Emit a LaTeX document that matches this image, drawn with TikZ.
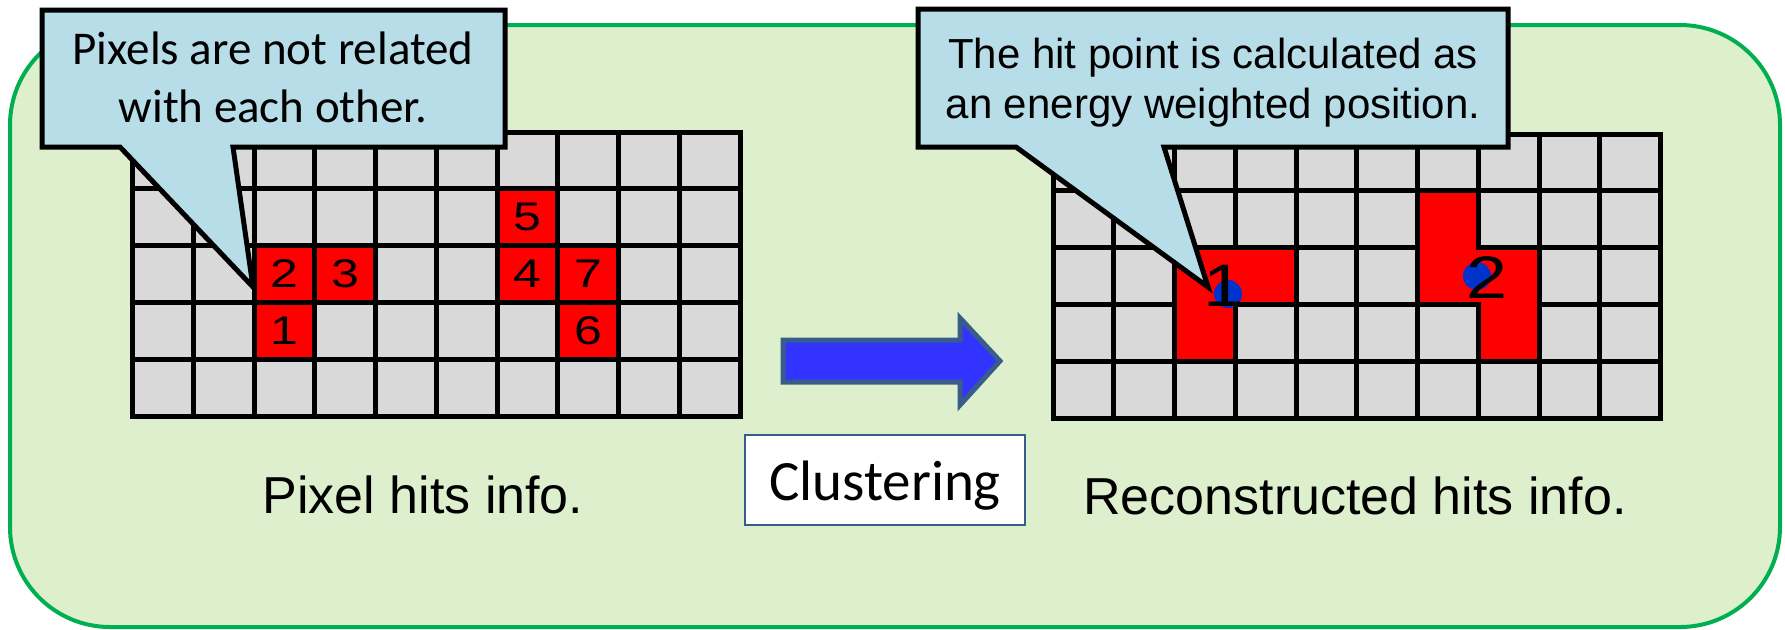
\documentclass[tikz,border=0pt]{standalone}
\usepackage{fontspec}
\setmainfont{Liberation Sans}
\newfontfamily\calibri{Carlito}
\definecolor{bggreen}{RGB}{222,239,206}
\definecolor{edgegreen}{RGB}{0,176,80}
\definecolor{calloutblue}{RGB}{183,221,232}
\definecolor{cellgray}{RGB}{217,217,217}
\definecolor{dotblue}{RGB}{0,51,204}
\definecolor{arrowblue}{RGB}{51,51,255}
\definecolor{steel}{RGB}{56,93,138}
\begin{document}
\begin{tikzpicture}[x=0.5pt,y=-0.5pt,
  gridline/.style={line width=2.5pt, draw=black, line cap=rect},
  clusteredge/.style={line width=2.5pt, draw=black, fill=red, line join=miter},
  callout/.style={fill=calloutblue, draw=black, line width=2.5pt, line join=miter},
  smalldigit/.style={inner sep=0pt, text=black, font=\fontsize{20}{24}\selectfont},
  bigdigit/.style={inner sep=0pt, text=black, font=\fontsize{30}{36}\selectfont},
  callonetext/.style={inner sep=0pt, anchor=base, font=\calibri\fontsize{23.5}{28}\selectfont},
  calltwotext/.style={inner sep=0pt, anchor=base, font=\fontsize{21}{25}\selectfont},
  caption/.style={inner sep=0pt, anchor=base, font=\fontsize{26}{31}\selectfont},
  hitdot/.style={fill=dotblue}]
\useasboundingbox (0,0) rectangle (1785,629);
\fill[white] (0,0) rectangle (1785,629);
% green panel
\draw[fill=bggreen, draw=edgegreen, line width=2pt, rounded corners=50pt] (10,25) rectangle (1780,627);
\def\CW{60.75}
\def\CH{56.8}
% left grid
\begin{scope}[shift={(132.5,132)}]
  \fill[cellgray] (0,0) rectangle (10*\CW,5*\CH);
  \foreach \c/\r in {2/2,3/2,6/1,6/2,7/2,2/3,7/3}
    \fill[red] (\c*\CW,\r*\CH) rectangle ++(\CW,\CH);
  \foreach \i in {0,...,10} \draw[gridline] (\i*\CW,0) -- (\i*\CW,5*\CH);
  \foreach \j in {0,...,5} \draw[gridline] (0,\j*\CH) -- (10*\CW,\j*\CH);
  \node[smalldigit] (p1) at (2.5*\CW,3.5*\CH) {\scalebox{1.25}[1]{1}};
  \node[smalldigit] (p2) at (2.5*\CW,2.5*\CH) {\scalebox{1.25}[1]{2}};
  \node[smalldigit] (p3) at (3.5*\CW,2.5*\CH) {\scalebox{1.25}[1]{3}};
  \node[smalldigit] (p4) at (6.5*\CW,2.5*\CH) {\scalebox{1.25}[1]{4}};
  \node[smalldigit] (p5) at (6.5*\CW,1.5*\CH) {\scalebox{1.25}[1]{5}};
  \node[smalldigit] (p6) at (7.5*\CW,3.5*\CH) {\scalebox{1.25}[1]{6}};
  \node[smalldigit] (p7) at (7.5*\CW,2.5*\CH) {\scalebox{1.25}[1]{7}};
\end{scope}
% right grid
\begin{scope}[shift={(1053,134)}]
  \fill[cellgray] (0,0) rectangle (10*\CW,5*\CH);
  \foreach \i in {0,...,10} \draw[gridline] (\i*\CW,0) -- (\i*\CW,5*\CH);
  \foreach \j in {0,...,5} \draw[gridline] (0,\j*\CH) -- (10*\CW,\j*\CH);
  \path[clusteredge] (2*\CW,2*\CH) -- (4*\CW,2*\CH) -- (4*\CW,3*\CH) -- (3*\CW,3*\CH)
     -- (3*\CW,4*\CH) -- (2*\CW,4*\CH) -- cycle;
  \path[clusteredge] (6*\CW,1*\CH) -- (7*\CW,1*\CH) -- (7*\CW,2*\CH) -- (8*\CW,2*\CH)
     -- (8*\CW,4*\CH) -- (7*\CW,4*\CH) -- (7*\CW,3*\CH) -- (6*\CW,3*\CH) -- cycle;
\end{scope}
\fill[hitdot] (1228,294) circle[radius=14];
\fill[hitdot] (1477,276) circle[radius=14];
\node[bigdigit] (c1) at (1224,286) {\scalebox{1.23}[1]{1}};
\node[bigdigit] (c2) at (1487,278) {\scalebox{1.23}[1]{2}};
% callouts
\draw[callout] (42,10) -- (505,10) -- (505,147) -- (233,147) -- (253,287) -- (120,147) -- (42,147) -- cycle;
\node[callonetext] (t1a) at (273,64) {Pixels are not related};
\node[callonetext] (t1b) at (273,122) {with each other.};
\draw[callout] (918,9) -- (1508,9) -- (1508,147) -- (1164,147) -- (1208,287) -- (1016,147) -- (918,147) -- cycle;
\node[calltwotext] (t2a) at (1213,68) {The hit point is calculated as};
\node[calltwotext] (t2b) at (1213,118) {an energy weighted position.};
% arrow
\draw[fill=arrowblue, draw=steel, line width=2.5pt, line join=miter]
  (783,340) -- (960,340) -- (960,318) -- (1000,361) -- (960,405) -- (960,382) -- (783,382) -- cycle;
% clustering box
\node[draw=steel, line width=1pt, fill=white, minimum width=140pt, minimum height=45pt, inner sep=0pt] (clbox) at (885,480) {};
\node[inner sep=0pt, anchor=base, font=\calibri\fontsize{28.5}{34}\selectfont] (cltext) at (885,500) {Clustering};
% captions
\node[caption] (cap1) at (423,513) {Pixel hits info.};
\node[caption] (cap2) at (1355,514) {Reconstructed hits info.};
\end{tikzpicture}
\end{document}
